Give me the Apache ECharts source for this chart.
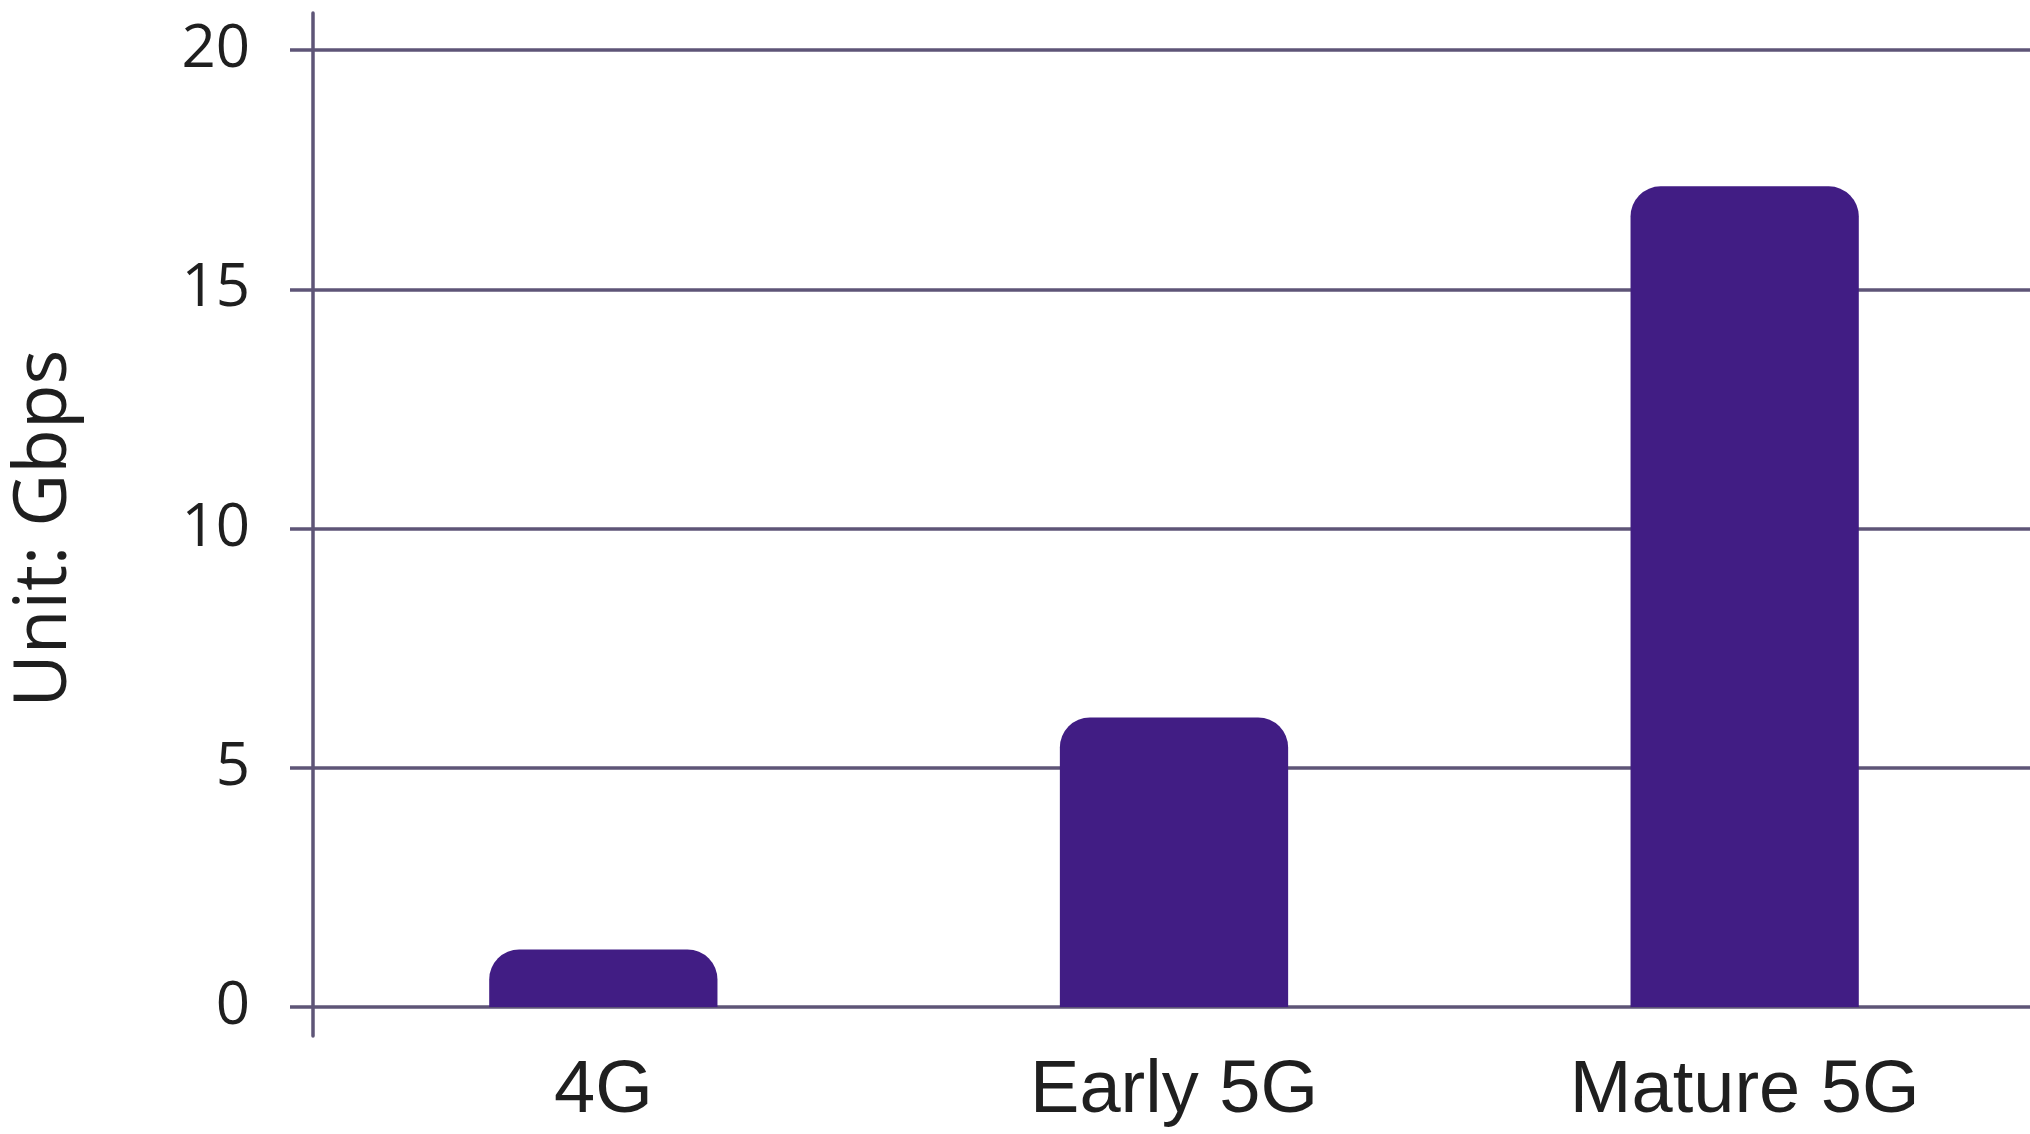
<!DOCTYPE html>
<html>
<head>
<meta charset="utf-8">
<title>Peak data rate</title>
<script src="https://cdn.jsdelivr.net/npm/echarts@6/dist/echarts.min.js"></script>
<style>
  html, body { margin: 0; padding: 0; background: #fff; }
  #chart { width: 2030px; height: 1134px; }
</style>
</head>
<body>
<div id="chart"></div>
<script>
// data
const categories = ['4G', 'Early 5G', 'Mature 5G'];
const speeds = [1.2, 6.05, 17.15];
const yTicks = [0, 5, 10, 15, 20];

const lineColor = '#5e5577';
const barColor = '#411d84';

const chart = echarts.init(document.getElementById('chart'));

const option = {
  animation: false,
  grid: [
    // main plot
    { left: 318, right: 0, top: 50, bottom: 127 },
    // only used to draw the longer vertical axis line
    { left: 313, right: 0, top: 13, bottom: 98 }
  ],
  xAxis: [
    {
      gridIndex: 0,
      type: 'category',
      data: categories,
      axisLine: { show: false },
      axisTick: { show: false },
      axisLabel: {
        color: '#1f1f1f',
        fontFamily: '"Liberation Sans Narrow", "Liberation Sans", Arial, sans-serif',
        fontSize: 74,
        margin: 48
      }
    },
    { gridIndex: 1, type: 'value', show: false, min: 0, max: 1 }
  ],
  yAxis: [
    {
      gridIndex: 0,
      type: 'value',
      min: yTicks[0],
      max: yTicks[yTicks.length - 1],
      interval: yTicks[1] - yTicks[0],
      name: 'Unit: Gbps',
      nameLocation: 'middle',
      nameRotate: 90,
      nameGap: 236,
      nameTextStyle: {
        color: '#1f1f1f',
        fontFamily: '"Open Sans", "Noto Sans", sans-serif',
        fontSize: 73
      },
      axisLine: { show: false },
      axisTick: {
        show: true,
        length: 28,
        lineStyle: { color: lineColor, width: 3.5 }
      },
      splitLine: { lineStyle: { color: lineColor, width: 3.5 } },
      axisLabel: {
        color: '#1f1f1f',
        fontFamily: '"Open Sans", "Noto Sans", sans-serif',
        fontSize: 60,
        margin: 68
      }
    },
    {
      gridIndex: 1,
      type: 'value',
      min: 0,
      max: 1,
      axisLine: { show: true, lineStyle: { color: lineColor, width: 3.5 } },
      axisTick: { show: false },
      axisLabel: { show: false },
      splitLine: { show: false }
    }
  ],
  series: [
    {
      type: 'bar',
      xAxisIndex: 0,
      yAxisIndex: 0,
      data: speeds,
      barWidth: '40%',
      itemStyle: { color: barColor, borderRadius: [30, 30, 0, 0] }
    }
  ]
};

chart.setOption(option);
</script>
</body>
</html>
